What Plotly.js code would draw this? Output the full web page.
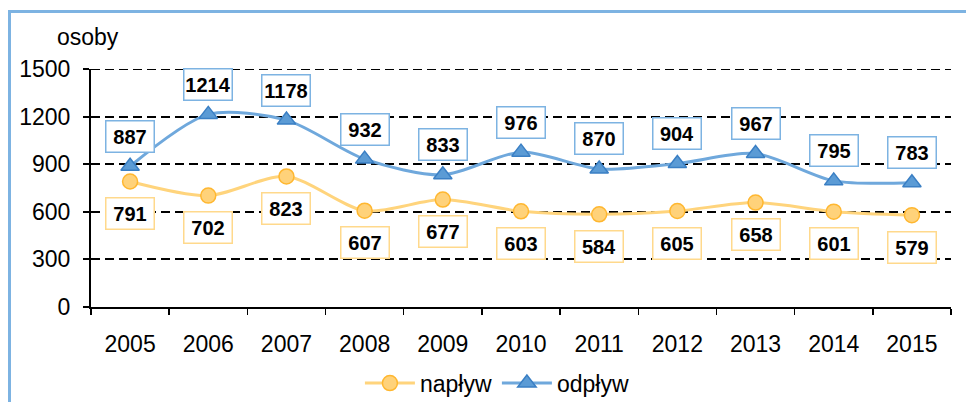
<!DOCTYPE html>
<html>
<head>
<meta charset="utf-8">
<script src="https://cdn.plot.ly/plotly-3.0.1.min.js"></script>
<style>
html,body{margin:0;padding:0;background:#fff;overflow:hidden;width:966px;height:402px;}
#frame{position:absolute;left:8px;top:10px;width:1200px;height:600px;border-left:3px solid #7DB3E2;border-top:3px solid #7DB3E2;}
#chart{position:absolute;left:0;top:0;width:966px;height:402px;}
</style>
</head>
<body>
<div id="frame"></div>
<div id="chart"></div>
<script>
var years = ['2005','2006','2007','2008','2009','2010','2011','2012','2013','2014','2015'];
var naplyw = [791,702,823,607,677,603,584,605,658,601,579];
var odplyw = [887,1214,1178,932,833,976,870,904,967,795,783];
var yTicks = [0,300,600,900,1200,1500];

var FONT = 'Liberation Sans, Arial, sans-serif';

var traces = [
  {x: years, y: naplyw, name: 'napływ', type: 'scatter', mode: 'lines+markers',
   line: {color: '#FFD47C', width: 3, shape: 'spline', smoothing: 0.8},
   marker: {symbol: 'circle', size: 15, color: '#FFD27A', line: {color: '#FFB730', width: 1.5}}},
  {x: years, y: odplyw, name: 'odpływ', type: 'scatter', mode: 'lines+markers',
   line: {color: '#6FA8DC', width: 3, shape: 'spline', smoothing: 0.8},
   marker: {symbol: 'triangle-up', size: 16, color: '#5B9BD5', line: {color: '#3A7FC4', width: 1.5}}}
];

var annotations = [];
years.forEach(function(yr, i){
  annotations.push({x: i, y: odplyw[i], xref: 'x', yref: 'y', text: '<b>' + odplyw[i] + '</b>',
    showarrow: false, yshift: 30, width: 45, height: 28, bgcolor: '#ffffff',
    bordercolor: '#7DB3E2', borderwidth: 1.5, borderpad: 1,
    font: {family: FONT, size: 20, color: '#000'}});
  annotations.push({x: i, y: naplyw[i], xref: 'x', yref: 'y', text: '<b>' + naplyw[i] + '</b>',
    showarrow: false, yshift: -32, width: 45, height: 28, bgcolor: '#ffffff',
    bordercolor: '#FFD98C', borderwidth: 1.5, borderpad: 1,
    font: {family: FONT, size: 20, color: '#000'}});
});
annotations.push({x: -0.042, y: 1.134, xref: 'paper', yref: 'paper', xanchor: 'left', yanchor: 'middle',
  text: 'osoby', showarrow: false, font: {family: FONT, size: 23, color: '#000'}});

var topTick = yTicks[yTicks.length - 1];

var layout = {
  width: 966, height: 402,
  margin: {l: 91, r: 15, t: 69, b: 95, autoexpand: false},
  paper_bgcolor: 'rgba(0,0,0,0)', plot_bgcolor: 'rgba(0,0,0,0)',
  font: {family: FONT, size: 23, color: '#000'},
  showlegend: true,
  legend: {orientation: 'h', x: 0.472, xanchor: 'center', yref: 'container', y: 0.047, yanchor: 'middle',
    font: {size: 23}, itemwidth: 50, traceorder: 'normal'},
  xaxis: {type: 'category', range: [-0.5, 10.5], showline: true, linecolor: '#000', linewidth: 2,
    ticks: 'outside', tickson: 'boundaries', ticklen: 6, tickcolor: '#000', tickwidth: 1.5,
    showgrid: false, zeroline: false, ticklabelstandoff: 15, tickfont: {size: 23}, automargin: false},
  yaxis: {range: [0, 1500], tickvals: yTicks, showline: true, linecolor: '#000', linewidth: 2,
    ticks: 'outside', ticklen: 6, tickcolor: '#000', tickwidth: 2, showgrid: true, gridcolor: '#000',
    gridwidth: 2, griddash: '9px,5px', zeroline: false, ticklabelstandoff: 8, tickfont: {size: 23}, automargin: false},
  shapes: [{type: 'line', xref: 'paper', yref: 'y', x0: 0, x1: 1, y0: topTick, y1: topTick,
    line: {color: '#000', width: 2, dash: '9px,5px'}, layer: 'below'}],
  annotations: annotations
};

Plotly.newPlot('chart', traces, layout, {displayModeBar: false, staticPlot: true});
</script>
</body>
</html>
